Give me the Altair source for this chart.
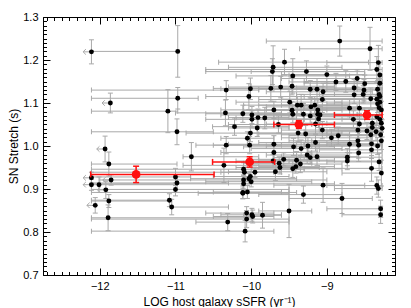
import altair as alt
import pandas as pd

# ---------------- data ----------------
# group A: far-left hosts (ul = 1 -> upper limit in sSFR, drawn with a left arrow)
ax = [-12.11, -10.97, -11.86, -11.93, -11.88, -12.11, -11.85, -12.11, -12.01, -11.92, -11.88, -12.06, -11.89]
ay = [1.219, 1.220, 1.100, 0.993, 0.958, 0.926, 0.921, 0.910, 0.910, 0.898, 0.872, 0.862, 0.833]
axlo = [-12.11, -12.11, -11.86, -11.93, -12.11, -12.11, -11.85, -12.11, -12.11, -11.92, -12.11, -12.06, -12.11]
axhi = [-12.11, -10.97, -11.86, -11.93, -10.98, -12.11, -11.85, -12.11, -11.00, -11.92, -11.05, -12.06, -10.00]
ayerr = [0.028, 0.060, 0.023, 0.030, 0.028, 0.013, 0.012, 0.013, 0.018, 0.020, 0.015, 0.018, 0.030]
aul = [1, 0, 1, 1, 0, 1, 1, 1, 0, 1, 0, 1, 0]

# group B: around -11
bx = [-11.10, -10.97, -10.98, -11.00, -10.98, -11.00, -11.08, -11.05]
by = [1.081, 1.111, 1.033, 0.928, 0.914, 0.899, 0.874, 0.858]
bxlo = [-12.11, -12.11, -12.11, -12.11, -12.11, -12.11, -12.11, -11.05]
bxhi = [-10.97, -10.70, -10.50, -10.80, -10.30, -9.50, -11.08, -10.30]
byerr = [0.050, 0.025, 0.030, 0.020, 0.015, 0.015, 0.015, 0.018]

# group C: around -10
cx = [-10.33, -10.34, -10.11, -10.22, -10.33, -10.79, -10.36, -10.10, -10.10, -10.10, -10.11, -10.31, -10.08,
      -10.03, -10.01, -9.99, -9.99, -9.91, -9.82, -10.01, -10.02, -10.05, -9.92,
      -10.09, -9.95, -10.01, -10.03, -10.00, -10.05, -10.11, -10.06, -10.06, -9.99, -9.98, -9.85]
cy = [1.130, 1.077, 1.075, 1.045, 1.002, 0.975, 0.955, 0.946, 0.921, 0.912, 0.892, 0.823, 0.802,
      1.115, 1.133, 1.072, 1.062, 1.066, 1.065, 1.030, 1.002, 1.018, 1.042,
      0.939, 0.939, 0.929, 0.924, 0.917, 0.893, 0.890, 0.844, 0.830, 0.840, 0.836, 0.839]
cxlo = [-12.11, -11.00, -10.60, -10.51, -10.73, -10.90, -10.90, -12.11, -12.00, -12.11, -12.11, -10.73, -12.11,
        -10.60, -10.40, -10.40, -10.60, -10.30, -10.20, -10.86, -10.50, -10.40, -10.30,
        -12.11, -10.40, -10.50, -10.80, -10.60, -10.50, -10.70, -10.60, -12.11, -10.40, -10.50, -10.10]
cxhi = [-9.90, -9.60, -9.40, -9.50, -9.40, -9.90, -9.40, -9.30, -9.00, -8.90, -9.40, -9.50, -9.70,
        -9.30, -9.50, -9.20, -9.30, -9.50, -9.40, -9.60, -9.60, -9.70, -9.50,
        -9.70, -9.60, -9.50, -9.40, -9.20, -9.60, -9.50, -9.70, -9.50, -9.60, -9.70, -9.60]
cyerr = [0.022, 0.030, 0.020, 0.020, 0.020, 0.033, 0.040, 0.015, 0.012, 0.012, 0.015, 0.020, 0.025,
         0.030, 0.025, 0.020, 0.020, 0.020, 0.025, 0.020, 0.020, 0.015, 0.020,
         0.012, 0.012, 0.012, 0.012, 0.012, 0.015, 0.012, 0.015, 0.020, 0.015, 0.015, 0.030]

# group D: star-forming hosts (upper part)
dx = [-8.83, -8.43, -9.56, -9.71, -9.72, -9.27, -8.32, -8.34, -8.30, -9.00,
      -9.45, -9.46, -8.88, -8.75, -8.60, -8.50, -9.61, -9.74, -9.22, -9.13,
      -8.64, -8.51, -9.05, -8.33, -8.30, -8.64, -8.52, -8.31, -9.06, -8.42,
      -8.34, -9.49, -8.33, -9.39, -9.34, -9.21, -9.16, -8.70, -8.57, -8.31,
      -8.28, -9.70, -9.46, -9.12, -9.09, -9.45, -9.31, -9.64, -9.11, -9.22]
dy = [1.244, 1.226, 1.195, 1.183, 1.173, 1.173, 1.194, 1.178, 1.165, 1.166,
      1.163, 1.139, 1.149, 1.150, 1.157, 1.145, 1.137, 1.134, 1.132, 1.132,
      1.135, 1.130, 1.126, 1.132, 1.146, 1.119, 1.120, 1.120, 1.108, 1.110,
      1.109, 1.102, 1.098, 1.095, 1.095, 1.091, 1.095, 1.088, 1.088, 1.089,
      1.084, 1.084, 1.083, 1.084, 1.072, 1.074, 1.074, 1.050, 1.063, 1.070]
dxlo = [-9.80, -9.36, -10.43, -10.30, -10.60, -10.00, -9.00, -10.60, -9.50, -9.60,
        -10.20, -10.00, -9.50, -9.30, -9.60, -9.00, -10.30, -10.50, -9.90, -9.70,
        -9.40, -9.20, -9.80, -9.00, -9.30, -9.10, -9.40, -8.90, -9.90, -9.20,
        -9.60, -10.20, -9.00, -10.10, -9.90, -9.80, -9.60, -9.30, -9.50, -9.10,
        -9.70, -10.40, -10.10, -9.80, -9.60, -10.00, -9.90, -10.30, -9.70, -9.80]
dxhi = [-8.27, -8.27, -8.45, -8.80, -9.00, -8.50, -8.27, -8.27, -8.27, -8.50,
        -8.70, -8.90, -8.27, -8.27, -8.27, -8.27, -8.90, -9.10, -8.60, -8.50,
        -8.27, -8.27, -8.40, -8.27, -8.27, -8.27, -8.27, -8.27, -8.50, -8.27,
        -8.27, -8.80, -8.27, -8.70, -8.80, -8.60, -8.70, -8.27, -8.27, -8.27,
        -8.27, -9.00, -8.80, -8.50, -8.60, -8.90, -8.70, -9.20, -8.50, -8.70]
dyerr = [0.035, 0.050, 0.030, 0.050, 0.030, 0.025, 0.040, 0.030, 0.030, 0.020,
         0.040, 0.020, 0.020, 0.025, 0.020, 0.020, 0.025, 0.030, 0.020, 0.025,
         0.020, 0.025, 0.020, 0.020, 0.020, 0.020, 0.020, 0.020, 0.030, 0.025,
         0.020, 0.025, 0.020, 0.020, 0.025, 0.020, 0.020, 0.020, 0.020, 0.020,
         0.020, 0.020, 0.020, 0.025, 0.020, 0.020, 0.025, 0.020, 0.020, 0.020]

# group E: star-forming hosts (lower part)
ex = [-9.15, -8.57, -8.40, -8.28, -8.27, -9.38, -9.28, -8.85, -8.35, -8.42,
      -8.29, -9.70, -9.34, -9.15, -8.70, -8.41, -8.33, -8.28, -9.70, -9.44,
      -9.25, -9.71, -9.68, -9.63, -9.62, -9.57, -9.40, -9.45, -9.41, -9.35,
      -9.26, -9.22, -9.13, -8.73, -8.73, -8.58, -8.41, -8.31, -8.41, -8.28,
      -8.58, -9.05, -9.31, -8.34, -8.32, -8.80, -9.50, -8.29, -8.29, -8.59,
      -8.59, -8.94, -9.06, -8.47, -8.65, -8.40, -8.34, -8.30, -8.30, -8.30,
      -9.12]
ey = [1.051, 1.051, 1.043, 1.053, 1.041, 1.030, 1.028, 1.024, 1.033, 1.026,
      1.026, 1.004, 0.994, 1.008, 1.004, 1.005, 1.000, 1.012, 0.985, 0.998,
      1.000, 0.965, 0.940, 0.960, 0.950, 0.969, 0.967, 0.947, 0.952, 0.958,
      0.979, 0.973, 0.975, 0.974, 0.965, 0.984, 0.991, 0.963, 0.948, 0.937,
      1.002, 0.909, 0.887, 0.908, 0.901, 0.878, 0.849, 0.854, 0.840, 1.037,
      1.012, 1.019, 1.037, 1.035, 1.062, 1.053, 1.068, 1.062, 1.115, 1.102,
      1.074]
exlo = [-9.80, -9.20, -9.10, -9.40, -8.90, -10.00, -9.90, -9.50, -9.30, -9.00,
        -9.60, -10.30, -10.00, -9.90, -9.30, -9.00, -9.20, -9.50, -10.40, -10.10,
        -9.80, -10.20, -10.30, -10.10, -10.20, -10.00, -9.90, -10.00, -9.90, -10.00,
        -9.80, -9.70, -9.60, -9.30, -9.50, -9.20, -9.10, -9.00, -9.30, -8.80,
        -9.30, -9.70, -9.90, -9.00, -8.90, -9.50, -9.90, -9.00, -8.80, -9.10,
        -9.20, -9.60, -9.60, -9.00, -9.30, -9.00, -9.20, -8.80, -9.40, -8.90,
        -9.70]
exhi = [-8.60, -8.27, -8.27, -8.27, -8.27, -8.80, -8.70, -8.40, -8.27, -8.27,
        -8.27, -9.10, -8.80, -8.60, -8.27, -8.27, -8.27, -8.27, -9.20, -8.90,
        -8.70, -9.20, -9.00, -9.20, -9.10, -9.10, -8.90, -8.80, -8.90, -8.80,
        -8.70, -8.70, -8.60, -8.27, -8.27, -8.27, -8.27, -8.27, -8.27, -8.27,
        -8.27, -8.50, -8.80, -8.27, -8.27, -8.40, -9.20, -8.27, -8.27, -8.27,
        -8.27, -8.40, -8.60, -8.27, -8.27, -8.27, -8.27, -8.27, -8.27, -8.27,
        -8.60]
eyerr = [0.025, 0.025, 0.020, 0.020, 0.020, 0.020, 0.020, 0.020, 0.020, 0.020,
         0.020, 0.020, 0.020, 0.020, 0.020, 0.020, 0.020, 0.020, 0.020, 0.020,
         0.020, 0.015, 0.020, 0.015, 0.015, 0.015, 0.020, 0.020, 0.015, 0.020,
         0.020, 0.015, 0.020, 0.020, 0.020, 0.020, 0.020, 0.020, 0.030, 0.030,
         0.030, 0.040, 0.020, 0.020, 0.020, 0.035, 0.062, 0.020, 0.020, 0.020,
         0.020, 0.020, 0.020, 0.020, 0.020, 0.020, 0.020, 0.020, 0.020, 0.020,
         0.020]

# binned means (red)
rx = [-11.52, -10.02, -9.37, -8.47]
ry = [0.934, 0.963, 1.050, 1.072]
rxlo = [-12.12, -10.51, -9.70, -8.90]
rxhi = [-10.49, -9.69, -8.90, -8.27]
ryerr = [0.019, 0.012, 0.009, 0.010]

# axis ticks
x_major = [-12, -11, -10, -9]
y_major = [0.7, 0.8, 0.9, 1.0, 1.1, 1.2, 1.3]
x_minor = [round(-12.7 + 0.1 * i, 1) for i in range(47)]
y_minor = [round(0.70 + 0.01 * i, 2) for i in range(61)]

# ---------------- tables ----------------
n_rest = len(bx) + len(cx) + len(dx) + len(ex)
gray = pd.DataFrame({
    "x": ax + bx + cx + dx + ex,
    "y": ay + by + cy + dy + ey,
    "xlo": axlo + bxlo + cxlo + dxlo + exlo,
    "xhi": axhi + bxhi + cxhi + dxhi + exhi,
    "yerr": ayerr + byerr + cyerr + dyerr + eyerr,
    "ul": aul + [0] * n_rest,
})
red = pd.DataFrame({"x": rx, "y": ry, "xlo": rxlo, "xhi": rxhi, "yerr": ryerr})
axdf = pd.DataFrame({"ax": [-10.0], "ay": [1.0]})

W, H = 352, 258
FONT = "Liberation Sans"
GRAY = "#a9a9a9"
RED = "#ff1010"

xs = alt.Scale(domain=[-12.75, -8.10], nice=False, zero=False)
ys = alt.Scale(domain=[0.70, 1.30], nice=False, zero=False)


def X(f):
    return alt.X(f, type="quantitative", scale=xs, axis=None)


def Y(f):
    return alt.Y(f, type="quantitative", scale=ys, axis=None)


def errlayers(df, color, sw, capsize, filt=None):
    b = alt.Chart(df)
    if filt:
        b = b.transform_filter(filt)
    hbar = b.mark_rule(color=color, strokeWidth=sw).encode(x=X("xlo"), x2="xhi:Q", y=Y("y"))
    hcap = b.transform_fold(["xlo", "xhi"], as_=["side", "xc"]).mark_tick(
        orient="vertical", size=capsize, thickness=sw, color=color, opacity=1
    ).encode(x=X("xc"), y=Y("y"))
    v = alt.Chart(df).transform_calculate(
        ylo="datum.y - datum.yerr", yhi="datum.y + datum.yerr"
    )
    vbar = v.mark_rule(color=color, strokeWidth=sw).encode(x=X("x"), y=Y("ylo"), y2="yhi:Q")
    vcap = v.transform_fold(["ylo", "yhi"], as_=["side", "yc"]).mark_tick(
        orient="horizontal", size=capsize, thickness=sw, color=color, opacity=1
    ).encode(x=X("x"), y=Y("yc"))
    return [hbar, hcap, vbar, vcap]


gray_err = errlayers(gray, GRAY, 1, 5, "datum.ul == 0")

ulbase = alt.Chart(gray).transform_filter("datum.ul == 1").transform_calculate(xa="datum.x - 0.11")
arrow_shaft = ulbase.mark_rule(color=GRAY, strokeWidth=1).encode(x=X("xa"), x2="x:Q", y=Y("y"))
arrow_head = ulbase.mark_point(
    shape="M1,-1L0,0L1,1", size=30, filled=False, strokeWidth=1, color=GRAY, opacity=1
).encode(x=X("xa"), y=Y("y"))

pts = alt.Chart(gray).mark_circle(size=24, color="black", opacity=1).encode(x=X("x"), y=Y("y"))

red_err = errlayers(red, RED, 1.5, 6)
rpts = alt.Chart(red).mark_circle(size=75, color=RED, opacity=1).encode(x=X("x"), y=Y("y"))


def axis_layer(xaxis, yaxis):
    return alt.Chart(axdf).mark_point(opacity=0).encode(
        x=alt.X("ax:Q", scale=xs, axis=xaxis),
        y=alt.Y("ay:Q", scale=ys, axis=yaxis),
    )


common = dict(grid=False, domain=False, tickColor="black", tickWidth=1)

ax_labels = axis_layer(
    alt.Axis(orient="bottom", values=x_major, ticks=False, labelFont=FONT, labelFontSize=11,
             labelColor="black", labelPadding=5, title="LOG host galaxy sSFR (yr⁻¹)",
             titleFont=FONT, titleFontSize=12, titleFontWeight="normal", titleColor="black",
             titleX=W / 2, titleY=26, titleBaseline="middle", titleAlign="center", grid=False, domain=False),
    alt.Axis(orient="left", values=y_major, format=".1f", ticks=False, labelFont=FONT, labelFontSize=11,
             labelColor="black", labelPadding=5, title="SN Stretch (s)", titleFont=FONT,
             titleFontSize=12, titleFontWeight="normal", titleColor="black", titleX=-30,
             titleY=H / 2, titleAngle=270, titleBaseline="middle", titleAlign="center",
             grid=False, domain=False),
)
ax_major_bl = axis_layer(
    alt.Axis(orient="bottom", values=x_major, labels=False, tickSize=7, offset=-7, title="", **common),
    alt.Axis(orient="left", values=y_major, labels=False, tickSize=7, offset=-7, title="", **common),
)
ax_minor_bl = axis_layer(
    alt.Axis(orient="bottom", values=x_minor, labels=False, tickSize=3.5, offset=-3.5, title="", **common),
    alt.Axis(orient="left", values=y_minor, labels=False, tickSize=3.5, offset=-3.5, title="", **common),
)
ax_major_tr = axis_layer(
    alt.Axis(orient="top", values=x_major, labels=False, tickSize=7, offset=-7, title="", **common),
    alt.Axis(orient="right", values=y_major, labels=False, tickSize=7, offset=-7, title="", **common),
)
ax_minor_tr = axis_layer(
    alt.Axis(orient="top", values=x_minor, labels=False, tickSize=3.5, offset=-3.5, title="", **common),
    alt.Axis(orient="right", values=y_minor, labels=False, tickSize=3.5, offset=-3.5, title="", **common),
)

chart = alt.layer(
    *gray_err, arrow_shaft, arrow_head, pts, *red_err, rpts,
    ax_labels, ax_major_bl, ax_minor_bl, ax_major_tr, ax_minor_tr,
).resolve_axis(x="independent", y="independent").properties(
    width=W, height=H,
    autosize=alt.AutoSizeParams(type="none"),
    padding={"left": 35, "top": 9, "right": 8, "bottom": 32},
).configure_view(stroke="black", strokeWidth=1)

chart.save("out.html", embed_options={"renderer": "svg", "actions": False})
